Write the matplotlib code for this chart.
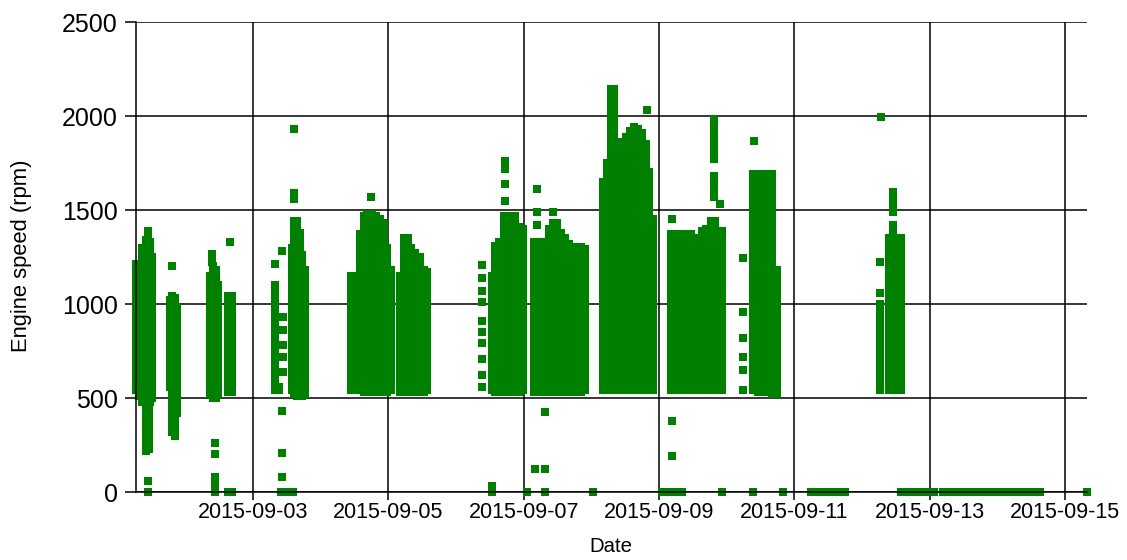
import numpy as np
import matplotlib
matplotlib.use("Agg")
import matplotlib.pyplot as plt
import matplotlib.dates as mdates

plt.rcParams['font.family'] = ['Liberation Sans', 'DejaVu Sans']

start = np.datetime64("2015-09-01T00:00")

# dense runs of readings: hour after start, lowest rpm, highest rpm
col_hour = [6.5, 7.5, 8.8, 10.0, 10.8, 11.6, 12.3, 10.2, 11.2,
            18.4, 19.4, 20.2, 20.9,
            32.9, 33.8, 34.8, 35.6, 39.3, 40.7,
            55.8, 57.2,
            61.7, 62.7, 63.7, 64.7, 65.5, 66.3,
            82.9, 84.4, 85.8, 87.2, 88.6, 90.1, 91.5, 92.9, 94.3, 95.7, 97.1,
            100.0, 101.4, 102.8, 104.2, 105.6, 107.1, 108.5, 109.6,
            132.6, 134.0, 135.4, 136.9, 138.3, 139.7, 141.1, 142.5, 143.8,
            147.5, 148.8, 150.2, 151.6, 153.0, 154.4, 155.8, 157.3, 158.7,
            160.1, 161.5, 162.9, 164.4, 165.6,
            172.3, 173.7, 175.0, 176.0, 177.5, 178.9, 180.3, 181.7, 183.1,
            184.5, 185.9, 187.3, 188.6, 189.7,
            196.1, 197.5, 198.9, 200.4, 201.8, 203.2, 204.6, 206.0, 207.4,
            208.8, 210.3, 211.7, 213.1, 214.2, 211.5, 211.5,
            225.5, 227.0, 228.4, 229.8, 231.2, 232.1, 233.7,
            270.4, 273.4, 274.8, 276.2, 277.9, 275.0, 275.0]
col_low = [540, 510, 480, 470, 470, 480, 500, 220, 230,
           560, 320, 300, 420,
           520, 500, 500, 520, 530, 530,
           540, 540,
           540, 520, 510, 510, 510, 520,
           540, 540, 540, 530, 530, 530, 530, 530, 530, 530, 540,
           530, 530, 530, 530, 530, 530, 530, 540,
           540, 530, 530, 530, 530, 530, 530, 530, 540,
           530, 530, 530, 530, 530, 530, 530, 530, 530,
           530, 530, 530, 530, 540,
           540, 540, 540, 540, 540, 540, 540, 540, 540,
           540, 540, 540, 540, 540,
           540, 540, 540, 540, 540, 540, 540, 540, 540,
           540, 540, 540, 540, 540, 1770, 1570,
           540, 530, 530, 530, 530, 520, 520,
           540, 540, 540, 540, 540, 1490, 1380]
col_high = [1215, 1215, 1300, 1340, 1390, 1330, 1250, 450, 440,
            1020, 1040, 1030, 980,
            1150, 1200, 1180, 1100, 1040, 1040,
            1100, 560,
            1300, 1440, 1440, 1380, 1260, 1180,
            1150, 1150, 1375, 1470, 1480, 1480, 1470, 1450, 1430, 1300, 1180,
            1150, 1350, 1350, 1300, 1270, 1250, 1180, 1170,
            1150, 1310, 1330, 1470, 1470, 1470, 1470, 1410, 1400,
            1330, 1330, 1330, 1330, 1400, 1430, 1430, 1380, 1350,
            1320, 1305, 1305, 1305, 1290,
            1650, 1750, 2145, 2145, 1800, 1860, 1890, 1920, 1940,
            1930, 1910, 1850, 1700, 1450,
            1375, 1375, 1330, 1370, 1370, 1370, 1350, 1350, 1390,
            1400, 1440, 1440, 1390, 1390, 1985, 1680,
            1690, 1690, 1690, 1690, 1690, 1690, 1180,
            1000, 1350, 1350, 1350, 1350, 1595, 1420]

# single readings
pt_hour = [10.6, 10.6, 19.3, 33.4, 33.4, 34.5, 34.5, 34.5, 34.5, 34.5, 40.0,
           55.8, 58.2, 58.6, 58.6, 58.6, 58.6, 58.6, 58.3, 58.3, 58.3,
           62.6, 62.6, 62.6, 89.9,
           129.2, 129.2, 129.2, 129.2, 129.2, 129.2, 129.2, 129.2, 129.2, 129.2,
           137.4, 137.4, 137.4, 137.4, 148.8, 148.8, 148.8, 154.4,
           151.6, 148.1, 151.6, 132.9, 132.9, 145.2, 151.6, 168.6,
           187.7, 196.6, 196.6, 196.6, 213.8, 214.4,
           221.9, 221.9, 221.9, 221.9, 221.9, 221.9, 225.7, 225.3, 235.9,
           270.7, 270.4, 270.4, 343.8]
pt_rpm = [60, 0, 1200, 1265, 1225, 260, 200, 80, 40, 0, 1330,
          1215, 1280, 930, 860, 780, 720, 640, 430, 205, 80,
          1930, 1590, 1560, 1570,
          1210, 1140, 1070, 1010, 910, 850, 790, 710, 620, 560,
          1760, 1720, 1640, 1550, 1610, 1490, 1420, 1490,
          425, 120, 120, 30, 0, 0, 0, 0,
          2030, 1450, 380, 190, 1530, 0,
          1245, 955, 820, 720, 650, 540, 1865, 0, 0,
          1995, 1225, 1060, 0]

# stretches standing at 0 rpm
zero_from = [39.3, 58.0, 192.9, 245.8, 277.7, 292.9]
zero_to = [40.7, 62.2, 200.0, 257.8, 289.4, 327.0]

y_ticks = [0, 500, 1000, 1500, 2000, 2500]
x_tick_days = [3, 5, 7, 9, 11, 13, 15]

t0 = mdates.date2num(start)


def to_x(hours):
    return t0 + np.asarray(hours, dtype=float) / 24.0


green = "#008000"

fig = plt.figure(figsize=(11.27, 5.6), dpi=100)
ax = fig.add_axes([136 / 1127, 1 - 492 / 560, (1087 - 136) / 1127, (492 - 22) / 560])

lc = ax.vlines(to_x(col_hour), col_low, col_high, colors=green, linewidth=5.8, clip_on=False)
lc.set_capstyle("projecting")
ax.scatter(to_x(pt_hour), pt_rpm, marker="s", s=34, color=green, linewidths=0, clip_on=False)
zc = ax.hlines(np.zeros(len(zero_from)), to_x(zero_from), to_x(zero_to), colors=green,
               linewidth=5.8, clip_on=False)
zc.set_capstyle("projecting")

all_hours = col_hour + pt_hour + zero_from + zero_to
ax.set_xlim(to_x(min(all_hours)), to_x(max(all_hours)))
ax.set_ylim(0, 2500)
ax.set_yticks(y_ticks)
ax.xaxis.set_major_locator(mdates.DayLocator(bymonthday=x_tick_days))
ax.xaxis.set_major_formatter(mdates.DateFormatter("%Y-%m-%d"))

ax.set_axisbelow(True)
ax.grid(True, color="black", linewidth=1.1)
for s in ["top", "right"]:
    ax.spines[s].set_visible(False)
for s in ["left", "bottom"]:
    ax.spines[s].set_linewidth(1.1)
ax.tick_params(axis="y", labelsize=18, length=8, width=1.1, pad=5)
ax.tick_params(axis="x", labelsize=15.5, length=6, width=1.1, pad=1)

fig.text(22 / 1127, 1 - 256 / 560, "Engine speed (rpm)", rotation=90, ha="center", va="center",
         fontsize=15.8)
fig.text(611 / 1127, 1 - 546 / 560, "Date", ha="center", va="center", fontsize=14.7)

fig.savefig("out.png", dpi=100)
